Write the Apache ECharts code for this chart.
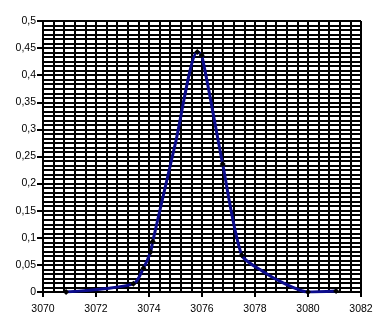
<!DOCTYPE html>
<html>
<head>
<meta charset="utf-8">
<script src="https://cdn.jsdelivr.net/npm/echarts@6/dist/echarts.min.js"></script>
<style>html,body{margin:0;padding:0;background:#fff}#c{width:389px;height:335px}</style>
</head>
<body>
<div id="c"></div>
<script>
// x positions and y values
var xValues = [3070.87, 3073.41, 3073.79, 3074.06, 3074.14, 3075.0, 3075.82, 3075.99, 3076.78, 3077.5, 3078.3, 3079.1, 3080.0, 3081.06];
var yValues = [0, 0.015, 0.044, 0.074, 0.093, 0.275, 0.443, 0.437, 0.236, 0.068, 0.038, 0.016, 0, 0.002];
var hasMarker = [true, true, true, true, true, false, true, true, true, true, false, false, true, true];
var xTickInfo = {min: 3070, max: 3082, interval: 2};
var yTickInfo = {min: 0, max: 0.5, interval: 0.05};

var data = xValues.map(function (x, i) {
  return hasMarker[i] ? [x, yValues[i]] : {value: [x, yValues[i]], symbol: 'none'};
});

var chart = echarts.init(document.getElementById('c'), null, {renderer: 'canvas'});
var font = 'Liberation Sans, Arial, sans-serif';
chart.setOption({
  animation: false,
  grid: {left: 43, top: 21, right: 28, bottom: 43, containLabel: false},
  xAxis: {
    type: 'value', min: xTickInfo.min, max: xTickInfo.max, interval: xTickInfo.interval,
    axisLine: {show: true, lineStyle: {color: '#000', width: 2}},
    axisTick: {show: true, length: 5, lineStyle: {color: '#000', width: 2}},
    axisLabel: {color: '#000', fontSize: 10.5, fontFamily: font, margin: 12,
      formatter: function (v) { return String(v); }},
    splitLine: {show: true, lineStyle: {color: '#000', width: 2}},
    minorTick: {show: false, splitNumber: 5},
    minorSplitLine: {show: true, lineStyle: {color: '#000', width: 2}}
  },
  yAxis: {
    type: 'value', min: yTickInfo.min, max: yTickInfo.max, interval: yTickInfo.interval,
    axisLine: {show: true, lineStyle: {color: '#000', width: 2}},
    axisTick: {show: true, length: 6, lineStyle: {color: '#000', width: 2}},
    axisLabel: {color: '#000', fontSize: 10.5, fontFamily: font, margin: 7,
      formatter: function (v) { return String(Math.round(v * 100) / 100).replace('.', ','); }},
    splitLine: {show: true, lineStyle: {color: '#000', width: 2}},
    minorTick: {show: false, splitNumber: 6},
    minorSplitLine: {show: true, lineStyle: {color: '#000', width: 2}}
  },
  series: [{
    type: 'line', data: data, smooth: 0.25,
    symbol: 'diamond', symbolSize: 6,
    itemStyle: {color: '#000'},
    lineStyle: {color: '#0c0c8c', width: 3}
  }]
});
</script>
</body>
</html>
